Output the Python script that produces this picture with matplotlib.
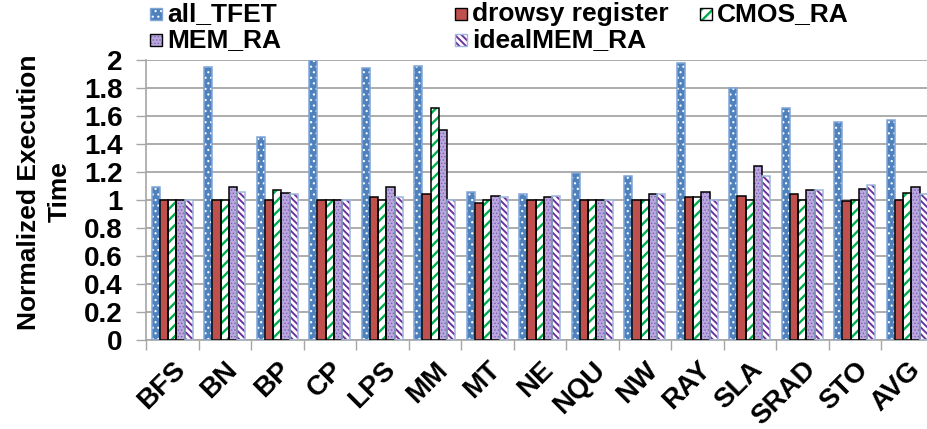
import numpy as np
import matplotlib
matplotlib.use("Agg")
import matplotlib.pyplot as plt
from matplotlib.patches import Rectangle

plt.rcParams['font.family'] = ['Liberation Sans', 'DejaVu Sans']
plt.rcParams['font.weight'] = 'bold'

benchmarks = ['BFS', 'BN', 'BP', 'CP', 'LPS', 'MM', 'MT', 'NE', 'NQU', 'NW',
              'RAY', 'SLA', 'SRAD', 'STO', 'AVG']
all_tfet = [1.09, 1.95, 1.45, 2.00, 1.94, 1.96, 1.06, 1.04, 1.19, 1.17,
            1.98, 1.80, 1.66, 1.56, 1.57]
drowsy = [1.00, 1.00, 1.00, 1.00, 1.02, 1.04, 0.98, 1.00, 1.00, 1.00,
          1.02, 1.03, 1.04, 0.99, 1.00]
cmos_ra = [1.00, 1.00, 1.07, 1.00, 1.00, 1.66, 1.00, 1.00, 1.00, 1.00,
           1.02, 1.00, 1.00, 1.00, 1.05]
mem_ra = [1.00, 1.09, 1.05, 1.00, 1.09, 1.50, 1.03, 1.02, 1.00, 1.04,
          1.06, 1.24, 1.07, 1.08, 1.09]
ideal_mem_ra = [1.00, 1.06, 1.04, 1.00, 1.02, 1.00, 1.02, 1.03, 1.00, 1.04,
                1.00, 1.17, 1.07, 1.11, 1.04]

series_names = ['all_TFET', 'drowsy register', 'CMOS_RA', 'MEM_RA', 'idealMEM_RA']
series_vals = [all_tfet, drowsy, cmos_ra, mem_ra, ideal_mem_ra]
# face, hatch, hatch colour, outline, hatch width
styles = [
    ('#4F81BD', '...', 'white', '#7FA6D8', 0.8),
    ('#C0504D', None, '#C0504D', 'black', 1.0),
    ('white', '///', '#00B050', 'black', 1.7),
    ('#B9A7DD', '.....', '#7E5FB8', 'black', 0.6),
    ('white', '\\\\\\\\\\', '#7030A0', '#9DB7DD', 1.4),
]

W, H = 927, 429
fig = plt.figure(figsize=(W / 100, H / 100), dpi=100)
ax = fig.add_axes([146 / W, 89 / H, 787.5 / W, 280 / H])

idx = np.arange(len(benchmarks))
bw = 0.156
for i, (vals, (face, hatch, hcol, edge, hlw)) in enumerate(zip(series_vals, styles)):
    x = idx + (i - 2) * bw
    with plt.rc_context({'hatch.linewidth': hlw}):
        ax.bar(x, vals, bw, color=face, edgecolor=hcol, linewidth=0, hatch=hatch, zorder=2)
    ax.bar(x, vals, bw, fill=False, edgecolor=edge, linewidth=1.1, zorder=3)

ax.set_xlim(-0.5, len(benchmarks) - 0.5)
ax.set_ylim(0, 2)
yt = np.arange(0, 2.01, 0.2)
ax.set_yticks(yt)
ax.set_yticklabels(['{:g}'.format(round(v, 1)) for v in yt])
ax.yaxis.grid(True, color='#A6A6A6', linewidth=1.3, zorder=0)
ax.set_axisbelow(True)

ax.set_xticks(np.arange(-0.5, len(benchmarks), 1.0))
ax.set_xticklabels([])
ax.set_xticks(idx, minor=True)
ax.set_xticklabels(benchmarks, minor=True, rotation=45, ha='right',
                   rotation_mode='anchor', fontsize=20)
ax.tick_params(axis='x', which='major', length=7, color='#A6A6A6', width=1)
ax.tick_params(axis='x', which='minor', length=0, pad=12)
ax.tick_params(axis='y', length=7, color='#A6A6A6', width=1, labelsize=20, pad=10)

for s in ['top', 'right']:
    ax.spines[s].set_visible(False)
for s in ['left', 'bottom']:
    ax.spines[s].set_color('#A6A6A6')
    ax.spines[s].set_linewidth(1.2)

fig.text(44 / W, 1 - 192 / H, 'Normalized Execution\nTime', rotation=90,
         ha='center', va='center', multialignment='center', fontsize=19,
         linespacing=1.35)

# legend laid out in three columns above the plot
legend_pos = [(150, 14), (455, 14), (700, 14), (150, 40), (455, 40)]
for (lx, ly), k in zip(legend_pos, range(len(series_names))):
    face, hatch, hcol, edge, hlw = styles[k]
    sq = 12
    with plt.rc_context({'hatch.linewidth': hlw}):
        fig.add_artist(Rectangle((lx / W, 1 - (ly + sq / 2) / H), sq / W, sq / H,
                                 transform=fig.transFigure, facecolor=face,
                                 edgecolor=hcol, linewidth=0, hatch=hatch))
    fig.add_artist(Rectangle((lx / W, 1 - (ly + sq / 2) / H), sq / W, sq / H,
                             transform=fig.transFigure, fill=False,
                             edgecolor=edge, linewidth=1.0))
    fig.text((lx + sq + 5) / W, 1 - ly / H, series_names[k], ha='left',
             va='center', fontsize=19)

fig.savefig('out.png', dpi=100)
